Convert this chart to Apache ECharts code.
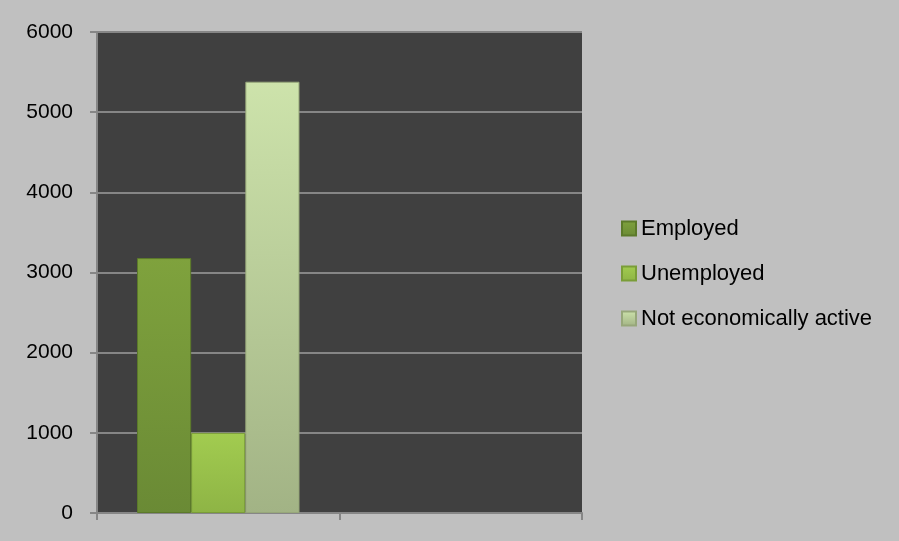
<!DOCTYPE html>
<html>
<head>
<meta charset="utf-8">
<script src="https://cdn.jsdelivr.net/npm/echarts@6/dist/echarts.min.js"></script>
<style>html,body{margin:0;padding:0;background:#c0c0c0;}#c{width:899px;height:541px;}</style>
</head>
<body>
<div id="c"></div>
<script>
var categories = ['', ''];
var employed = [3180, null];
var unemployed = [1000, null];
var notActive = [5380, null];
var yTicks = [0, 1000, 2000, 3000, 4000, 5000, 6000];

function vgrad(top, bottom) {
  return new echarts.graphic.LinearGradient(0, 0, 0, 1, [
    {offset: 0, color: top}, {offset: 1, color: bottom}
  ]);
}
var chart = echarts.init(document.getElementById('c'), null, {renderer: 'canvas'});
var font = 'Liberation Sans';
chart.setOption({
  backgroundColor: '#c0c0c0',
  animation: false,
  grid: {left: 97, right: 317, top: 32, bottom: 28, show: true, backgroundColor: '#404040', borderWidth: 0},
  legend: {
    orient: 'vertical', left: 616, top: 212, itemWidth: 14, itemHeight: 14, itemGap: 22, icon: 'rect',
    textStyle: {fontFamily: font, fontSize: 22, color: '#000', lineHeight: 23},
    data: ['Employed', 'Unemployed', 'Not economically active']
  },
  xAxis: {
    type: 'category', data: categories, boundaryGap: true,
    axisLine: {show: true, lineStyle: {color: '#868686', width: 2}},
    axisTick: {show: true, length: 7, lineStyle: {color: '#868686', width: 2}},
    axisLabel: {show: false}
  },
  yAxis: {
    type: 'value', min: yTicks[0], max: yTicks[yTicks.length - 1], interval: 1000,
    axisLine: {show: true, lineStyle: {color: '#868686', width: 2}},
    axisTick: {show: true, length: 7, lineStyle: {color: '#868686', width: 2}},
    splitLine: {show: true, lineStyle: {color: '#868686', width: 2}},
    axisLabel: {fontFamily: font, fontSize: 21, color: '#000', margin: 24, formatter: function (v) { return String(v); }}
  },
  series: [
    {name: 'Employed', type: 'bar', data: employed, barGap: '0%', barCategoryGap: '33%',
      itemStyle: {color: vgrad('#7fa23d', '#6a8a35'), borderColor: '#5c7a2a', borderWidth: 1}},
    {name: 'Unemployed', type: 'bar', data: unemployed,
      itemStyle: {color: vgrad('#a2cc50', '#8eb445'), borderColor: '#7a9d38', borderWidth: 1}},
    {name: 'Not economically active', type: 'bar', data: notActive,
      itemStyle: {color: vgrad('#cde3ab', '#a2b385'), borderColor: '#97a77a', borderWidth: 1}}
  ]
});
</script>
</body>
</html>
